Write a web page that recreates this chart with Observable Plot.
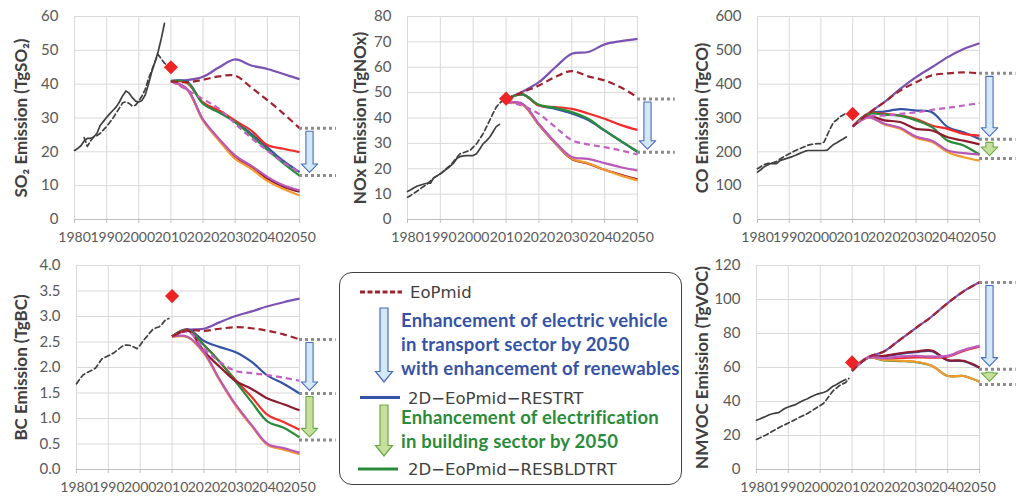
<!DOCTYPE html>
<html><head><meta charset="utf-8">
<script src="https://cdn.jsdelivr.net/npm/d3@7"></script>
<script src="https://cdn.jsdelivr.net/npm/@observablehq/plot@0.6"></script>
<style>
body{margin:0;background:#fff;font-family:Lato,sans-serif;}
#wrap{position:relative;width:1017px;height:497px;overflow:hidden;background:#fff;}
.panel{position:absolute;}
#legend{position:absolute;left:339px;top:272px;width:343px;height:213px;border:1.6px solid #404040;border-radius:13px;background:#fff;box-sizing:border-box;}
#legendsvg{position:absolute;left:339px;top:272px;overflow:visible;}
</style></head><body><div id="wrap"></div>
<script>
// ---------- DATA ----------
const xTicks = [1980, 1990, 2000, 2010, 2020, 2030, 2040, 2050];
const scenYears = [2010, 2015, 2020, 2025, 2030, 2035, 2040, 2045, 2050];
const obsYear = 2010;

// SO2 (TgSO2)
const so2HistSolid = [[1980,20.4],[1981,21],[1982,21.8],[1983,23.2],[1984,24],[1985,24],[1986,24.4],[1987,25.5],[1988,27.8],[1989,29],[1990,30.2],[1991,31.3],[1992,32.3],[1993,33.3],[1994,34.8],[1995,36.6],[1996,38],[1997,37.3],[1998,36],[1999,35],[2000,34.7],[2001,35.2],[2002,36.8],[2003,40],[2004,43.5],[2005,46.5],[2006,49.5],[2007,53.5],[2008,58]];
const so2HistDashed = [[1983,24.2],[1984,21.6],[1985,23.2],[1986,24.5],[1987,24.8],[1988,25.5],[1990,27.5],[1992,30],[1994,33],[1995,34.5],[1996,34.8],[1997,34.3],[1998,33.5],[1999,33.8],[2000,35],[2001,36.5],[2002,38.5],[2003,41.5],[2004,44],[2005,46.5],[2006,48.8],[2007,47.5],[2008,46.2],[2009,45.5]];
const so2Obs = [45];
const so2Series = {
  purple:      [41, 41.2, 42.2, 45, 47.3, 45.5, 44.5, 43, 41.5],
  blue:        [40.9, 40.7, 34.4, 31.8, 28.9, 25.3, 21.3, 17.3, 14],
  red:         [40.9, 40.3, 34.6, 32.2, 29.2, 26.3, 22, 20.9, 19.9],
  green:       [40.9, 40.6, 34.2, 31.6, 28.7, 24.8, 20.6, 16.6, 13],
  darkred:     [40.9, 38.5, 29.4, 23.6, 18.5, 15.5, 12.1, 9.7, 8.2],
  orange:      [40.9, 38.4, 29.2, 23.3, 17.9, 15, 11.4, 9, 7.1],
  magenta:     [40.9, 38.6, 29.5, 23.8, 18.9, 15.9, 12.6, 10.1, 8.6],
  magentaDash: [40.9, 38.3, 35.6, 32.7, 28.3, 24.1, 20.3, 16.9, 14],
  EoPmid:      [40.8, 40.6, 41.3, 42.3, 42.5, 39, 35.3, 31.3, 27]
};
const so2Levels = [27, 13];

// NOx (TgNOx)
const noxHistSolid = [[1980,11],[1981,11.7],[1982,12.5],[1983,13.2],[1984,13.6],[1985,14],[1986,14.3],[1987,14.3],[1988,16.5],[1989,17.2],[1990,18],[1991,19],[1992,20],[1993,21],[1994,22.2],[1995,24],[1996,24.8],[1997,25.1],[1998,25.2],[1999,25.2],[2000,25.2],[2001,25.9],[2002,27.8],[2003,29.8],[2004,31],[2005,32.4],[2006,34.5],[2007,36.6],[2008,37.5]];
const noxHistDashed = [[1980,8.8],[1981,9.5],[1982,10.4],[1983,11.2],[1984,12.2],[1985,13.1],[1986,14],[1987,15.2],[1988,16.4],[1989,17.2],[1990,18],[1991,19.1],[1992,20.2],[1993,21.3],[1994,22.8],[1995,24.4],[1996,25.9],[1997,26.3],[1998,26.8],[1999,27.2],[2000,28.5],[2001,29.8],[2002,31.8],[2003,33.8],[2004,36.4],[2005,39],[2006,41.7],[2007,44.3],[2008,45.8],[2009,46.9]];
const noxObs = [47.6];
const noxSeries = {
  purple:      [47.6, 50.4, 54.1, 60, 65.3, 66, 69, 70.3, 71.2],
  blue:        [47.3, 49.3, 45, 43.6, 41.8, 39.2, 35, 30.8, 26.6],
  red:         [47.3, 49.3, 44.9, 44.3, 43.6, 41.8, 39.7, 37.2, 35.3],
  green:       [47.3, 49.3, 45.2, 44, 42.3, 39.7, 35.1, 30.9, 26.8],
  darkred:     [46.2, 45.3, 37.3, 30, 23.8, 22, 19.6, 17.6, 15.8],
  orange:      [46.2, 45.3, 37.5, 30.1, 24, 22.2, 19.6, 17.3, 15.4],
  magenta:     [46.2, 45.6, 37.7, 30.4, 24.6, 23.9, 22.2, 20.6, 19.3],
  magentaDash: [46.2, 44.9, 41.6, 36.4, 31.3, 29.6, 28.5, 27.2, 25.6],
  EoPmid:      [47.3, 50.2, 52.8, 56.2, 58.5, 56.4, 54.8, 52, 48.2]
};
const noxLevels = [47.5, 26.5];

// CO (TgCO)
const coHistSolid = [[1980,140],[1981,147],[1982,155],[1983,160],[1984,165],[1985,165],[1986,165],[1987,174],[1988,177],[1989,180],[1990,183],[1991,186],[1992,190],[1993,194],[1994,198],[1995,202],[1996,204],[1997,204],[1998,204],[1999,204],[2000,204],[2001,204],[2002,205],[2003,214],[2004,222],[2005,227],[2006,233],[2007,238],[2008,244]];
const coHistDashed = [[1980,150],[1981,156],[1982,162],[1983,165],[1984,167],[1985,168],[1986,171],[1987,178],[1988,184],[1989,189],[1990,194],[1991,199],[1992,204],[1993,208],[1994,212],[1995,216],[1996,220],[1997,222],[1998,223],[1999,224],[2000,224],[2001,229],[2002,250],[2003,270],[2004,288],[2005,294],[2006,304],[2007,309],[2008,314]];
const coObs = [312];
const coSeries = {
  purple:      [275, 314, 347, 386, 421, 450, 480, 504, 521],
  blue:        [275, 313, 319, 326, 322, 317, 273, 258, 238],
  red:         [275, 313, 312, 307, 297, 278, 268, 253, 248],
  green:       [275, 312, 310, 307, 293, 273, 233, 219, 192],
  darkred:     [275, 305, 293, 288, 268, 263, 243, 233, 222],
  orange:      [275, 302, 281, 268, 241, 229, 199, 184, 174],
  magenta:     [275, 302, 283, 271, 245, 233, 204, 196, 192],
  magentaDash: [275, 305, 307, 312, 317, 324, 330, 337, 344],
  EoPmid:      [275, 313, 347, 381, 406, 426, 432, 435, 432]
};
const coLevels = [432, 237, 180];

// BC (TgBC)
const bcHistSolid = [];
const bcHistDashed = [[1980,1.68],[1981,1.77],[1982,1.85],[1983,1.89],[1984,1.92],[1985,1.95],[1986,1.99],[1987,2.08],[1988,2.17],[1989,2.2],[1990,2.23],[1991,2.26],[1992,2.3],[1993,2.35],[1994,2.4],[1995,2.44],[1996,2.44],[1997,2.43],[1998,2.4],[1999,2.37],[2000,2.44],[2001,2.53],[2002,2.6],[2003,2.68],[2004,2.75],[2005,2.78],[2006,2.8],[2007,2.86],[2008,2.94],[2009,2.96]];
const bcObs = [3.4];
const bcSeries = {
  purple:      [2.61, 2.74, 2.76, 2.89, 3.01, 3.1, 3.2, 3.28, 3.35],
  blue:        [2.61, 2.75, 2.52, 2.4, 2.3, 2.11, 1.84, 1.68, 1.49],
  red:         [2.61, 2.74, 2.44, 2.11, 1.75, 1.42, 1.07, 0.93, 0.78],
  green:       [2.61, 2.73, 2.44, 2.11, 1.72, 1.32, 0.94, 0.82, 0.63],
  darkred:     [2.61, 2.72, 2.32, 2.01, 1.73, 1.58, 1.39, 1.28, 1.16],
  orange:      [2.6, 2.59, 2.28, 1.74, 1.25, 0.85, 0.48, 0.39, 0.3],
  magenta:     [2.61, 2.6, 2.3, 1.76, 1.27, 0.87, 0.5, 0.42, 0.33],
  magentaDash: [2.61, 2.7, 2.37, 2.11, 1.93, 1.89, 1.85, 1.8, 1.74],
  EoPmid:      [2.61, 2.73, 2.72, 2.76, 2.79, 2.77, 2.72, 2.65, 2.55]
};
const bcLevels = [2.55, 1.49, 0.58];

// NMVOC (TgVOC)
const vocHistSolid = [[1980,29],[1981,29.7],[1982,30.5],[1983,31.3],[1984,32.2],[1985,32.8],[1986,33.2],[1987,33.5],[1988,34.8],[1989,36],[1990,36.8],[1991,37.4],[1992,38],[1993,39],[1994,40],[1995,40.9],[1996,41.6],[1997,42.6],[1998,43.5],[1999,44.3],[2000,44.8],[2001,45.3],[2002,46],[2003,47.5],[2004,49],[2005,49.9],[2006,51],[2007,52],[2008,53]];
const vocHistDashed = [[1980,17.7],[1981,18.5],[1982,19.5],[1983,20.3],[1984,21.4],[1985,22.5],[1986,23.5],[1987,24.6],[1988,25.6],[1989,26.4],[1990,27.3],[1991,28.3],[1992,29.2],[1993,30.2],[1994,31.2],[1995,32],[1996,32.9],[1997,34.1],[1998,35.3],[1999,36.5],[2000,37.6],[2001,38.8],[2002,41.2],[2003,43.8],[2004,46.2],[2005,47.7],[2006,49.3],[2007,50.3],[2008,51.2],[2009,53.6]];
const vocObs = [63];
const vocSeries = {
  purple:      [58.1, 66, 69.4, 76.3, 83.2, 90, 97.9, 104.8, 110.1],
  blue:        [58.1, 65.8, 66.5, 68, 69, 69.6, 64.2, 63.7, 59.8],
  red:         [58.1, 65.8, 65, 65.6, 66, 65.8, 66.4, 69.8, 72.2],
  green:       [58.1, 65.8, 64.2, 63.8, 63.2, 61, 55, 55, 51.6],
  darkred:     [58.1, 65.8, 66.8, 68.4, 69.4, 70, 64.4, 64, 60],
  orange:      [58.1, 65.8, 64.4, 64, 63.4, 61, 55, 55, 51.6],
  magenta:     [58.1, 65.8, 65.4, 66.4, 66.8, 66.4, 66.8, 70.3, 72.7],
  magentaDash: [58.1, 65.8, 65.4, 66.4, 66.8, 66.4, 66.8, 70.3, 72.7],
  EoPmid:      [58.1, 66, 69.4, 76.3, 83.2, 90, 97.9, 104.8, 110.1]
};
const vocLevels = [110, 59, 50];

// legend texts
const legendEntries = ["EoPmid", "2D\u2212EoPmid\u2212RESTRT", "2D\u2212EoPmid\u2212RESBLDTRT"];
const legendNoteBlue = ["Enhancement of electric vehicle", "in transport sector by 2050", "with enhancement of renewables"];
const legendNoteGreen = ["Enhancement of electrification", "in building sector by 2050"];

// ---------- STYLES ----------
const drawOrder = ["purple","blue","red","green","darkred","orange","magenta","magentaDash","EoPmid"];
const seriesStyle = {
  purple:      {color: "#7B52B3"},
  blue:        {color: "#3553A6"},
  red:         {color: "#F52A2A"},
  green:       {color: "#2A8C3A"},
  darkred:     {color: "#8E1B2E"},
  orange:      {color: "#F59A2E"},
  magenta:     {color: "#BA58B8"},
  magentaDash: {color: "#C261C4", dash: "6,4"},
  EoPmid:      {color: "#A0232F", dash: "7,4"}
};
const arrowStyles = [
  {fill: "#D3E9F8", stroke: "#4A6BC0"},
  {fill: "#C6DF9C", stroke: "#6AAA45"}
];

function drawPanel(cfg) {
  const {series, histSolid, histDashed, obs, levels, yMax, yStep, yFmt, title, box} = cfg;
  const yTicks = d3.range(0, yMax + yStep / 2, yStep);
  const rows = [];
  for (const key of drawOrder) {
    series[key].forEach((v, i) => rows.push({key, year: scenYears[i], value: v}));
  }
  const innerH = box.height - box.mt - box.mb;
  const pxPerYear = (box.width - box.ml - box.mr) / (2050 - 1980);
  const cx = 2050 + 10 / pxPerYear, sw = 3.6 / pxPerYear, hw = 8.3 / pxPerYear;
  const headH = 8.5 / innerH * yMax, inset = 0.015 * yMax;
  const arrowMarks = [];
  for (let i = 0; i + 1 < levels.length; i++) {
    const y0 = levels[i] - inset, y1 = levels[i + 1] + inset;
    const yb = Math.min(y0, y1 + headH);
    const pts = [[cx - sw, y0], [cx + sw, y0], [cx + sw, yb], [cx + hw, yb], [cx, y1], [cx - hw, yb], [cx - sw, yb]];
    arrowMarks.push(Plot.line(pts, {x: d => d[0], y: d => d[1], curve: "linear-closed",
      fill: arrowStyles[i].fill, stroke: arrowStyles[i].stroke, strokeWidth: 1.1}));
  }
  const chart = Plot.plot({
    width: box.width, height: box.height,
    marginLeft: box.ml, marginRight: box.mr, marginTop: box.mt, marginBottom: box.mb,
    x: {domain: [1980, 2050]},
    y: {domain: [0, yMax]},
    style: {background: "transparent", fontFamily: "Lato, sans-serif", overflow: "visible"},
    marks: [
      Plot.gridY(yTicks, {stroke: "#D9D9D9", strokeOpacity: 1, strokeWidth: 1}),
      Plot.gridX(xTicks, {stroke: "#D9D9D9", strokeOpacity: 1, strokeWidth: 1}),
      Plot.ruleY([0], {stroke: "#BFBFBF", strokeWidth: 1.2}),
      Plot.axisX(xTicks, {tickFormat: "d", tickSize: 4, tickPadding: 9, stroke: "#BFBFBF", fill: "#595959", fontSize: 14, label: null}),
      Plot.axisY(yTicks, {tickFormat: yFmt, tickSize: 0, tickPadding: 16, fill: "#595959", fontSize: 15, label: null}),
      Plot.text([title], {text: d => d, frameAnchor: "left", textAnchor: "middle", rotate: -90, dx: box.tx - box.ml,
        fontWeight: "bold", fontSize: 17, fill: "#404040"}),
      Plot.line(histSolid, {x: d => d[0], y: d => d[1], stroke: "#404040", strokeWidth: 1.7}),
      Plot.line(histDashed, {x: d => d[0], y: d => d[1], stroke: "#404040", strokeWidth: 1.7, strokeDasharray: "5,3"}),
      ...drawOrder.map(key => Plot.line(rows.filter(r => r.key === key), {
        x: "year", y: "value", curve: "catmull-rom",
        stroke: seriesStyle[key].color, strokeWidth: 2.2,
        strokeDasharray: seriesStyle[key].dash || null, strokeLinecap: "butt"})),
      Plot.dot(obs, {x: () => obsYear, y: d => d, symbol: "diamond2", r: 6.4, fill: "#EE2424", stroke: "none"}),
      Plot.ruleY(levels, {x1: 2050, x2: 2061.5, stroke: "#8C8C8C", strokeWidth: 3, strokeDasharray: "3,3"}),
      ...arrowMarks
    ]
  });
  chart.classList.add("panel");
  chart.style.left = box.left + "px";
  chart.style.top = box.top + "px";
  chart.style.position = "absolute";
  document.getElementById("wrap").appendChild(chart);
}

drawPanel({series: so2Series, histSolid: so2HistSolid, histDashed: so2HistDashed, obs: so2Obs, levels: so2Levels,
  yMax: 60, yStep: 10, yFmt: "d", title: "SO\u2082 Emission (TgSO\u2082)",
  box: {left: 0, top: 0, width: 340, height: 250, ml: 74, mr: 41, mt: 16, mb: 31, tx: 21}});
drawPanel({series: noxSeries, histSolid: noxHistSolid, histDashed: noxHistDashed, obs: noxObs, levels: noxLevels,
  yMax: 80, yStep: 10, yFmt: "d", title: "NOx Emission (TgNOx)",
  box: {left: 340, top: 0, width: 340, height: 250, ml: 67, mr: 43, mt: 16, mb: 31, tx: 20}});
drawPanel({series: coSeries, histSolid: coHistSolid, histDashed: coHistDashed, obs: coObs, levels: coLevels,
  yMax: 600, yStep: 100, yFmt: "d", title: "CO Emission (TgCO)",
  box: {left: 680, top: 0, width: 337, height: 250, ml: 77, mr: 38, mt: 16, mb: 31, tx: 22}});
drawPanel({series: bcSeries, histSolid: bcHistSolid, histDashed: bcHistDashed, obs: bcObs, levels: bcLevels,
  yMax: 4, yStep: 0.5, yFmt: ".1f", title: "BC Emission (TgBC)",
  box: {left: 0, top: 250, width: 340, height: 247, ml: 76, mr: 41, mt: 15, mb: 28, tx: 21}});
drawPanel({series: vocSeries, histSolid: vocHistSolid, histDashed: vocHistDashed, obs: vocObs, levels: vocLevels,
  yMax: 120, yStep: 20, yFmt: "d", title: "NMVOC Emission (TgVOC)",
  box: {left: 680, top: 250, width: 337, height: 247, ml: 76, mr: 38, mt: 15, mb: 28, tx: 22}});

// ---------- LEGEND ----------
const wrap = document.getElementById("wrap");
const lg = document.createElement("div");
lg.id = "legend";
wrap.appendChild(lg);
const svg = d3.select(wrap).append("svg").attr("id", "legendsvg").attr("width", 345).attr("height", 215);
function blockArrow(g, x, yTop, yTip, headH, fill, stroke) {
  const sw = 4, hw = 8.5, yb = yTip - headH;
  g.append("path").attr("d", `M${x-sw},${yTop}L${x+sw},${yTop}L${x+sw},${yb}L${x+hw},${yb}L${x},${yTip}L${x-hw},${yb}L${x-sw},${yb}Z`)
    .attr("fill", fill).attr("stroke", stroke).attr("stroke-width", 1.2);
}
const regFont = "'DejaVu Sans', sans-serif";
const boldText = (t, x, y, color) => svg.append("text").attr("x", x).attr("y", y).text(t)
  .attr("font-family", "Lato, sans-serif").attr("font-weight", "bold").attr("font-size", 18.5)
  .attr("letter-spacing", 0.2).attr("fill", color);
const regText = (t, x, y) => svg.append("text").attr("x", x).attr("y", y).text(t)
  .attr("font-family", regFont).attr("font-size", 16.5).attr("fill", "#404040");

svg.append("line").attr("x1", 21).attr("x2", 63).attr("y1", 20).attr("y2", 20)
  .attr("stroke", seriesStyle.EoPmid.color).attr("stroke-width", 3.2).attr("stroke-dasharray", "5,2.5");
regText(legendEntries[0], 71, 26);
blockArrow(svg, 45, 36, 110, 10.5, arrowStyles[0].fill, arrowStyles[0].stroke);
legendNoteBlue.forEach((t, i) => boldText(t, 62, 54.5 + i * 24, "#3553A6"));
svg.append("line").attr("x1", 21).attr("x2", 61).attr("y1", 125.5).attr("y2", 125.5)
  .attr("stroke", seriesStyle.blue.color).attr("stroke-width", 3.2);
regText(legendEntries[1], 69, 131.5);
blockArrow(svg, 45, 133, 184, 10.5, arrowStyles[1].fill, arrowStyles[1].stroke);
legendNoteGreen.forEach((t, i) => boldText(t, 62, 151.5 + i * 24, "#2A8C3A"));
svg.append("line").attr("x1", 19).attr("x2", 59).attr("y1", 197).attr("y2", 197)
  .attr("stroke", seriesStyle.green.color).attr("stroke-width", 3.2);
regText(legendEntries[2], 69, 203);
</script>
</body></html>
